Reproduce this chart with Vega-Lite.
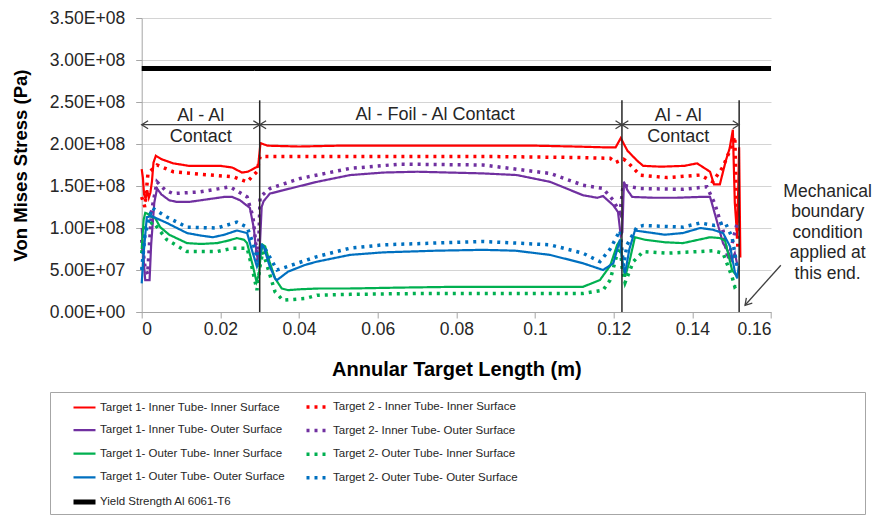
{
  "$schema": "https://vega.github.io/schema/vega-lite/v6.json",
  "width": 629.3,
  "height": 294,
  "autosize": {"type": "none"},
  "padding": {"left": 141.7, "top": 18, "right": 108, "bottom": 203},
  "background": "white",
  "config": {
    "view": {"stroke": null},
    "font": "Liberation Sans",
    "axis": {
      "labelFont": "Liberation Sans", "labelFontSize": 17.5, "labelColor": "#262626",
      "titleFont": "Liberation Sans", "titleFontWeight": "bold", "titleColor": "#000000",
      "gridColor": "#d4d4d4", "domainColor": "#a6a6a6", "tickColor": "#a6a6a6"
    },
    "legend": {
      "orient": "none", "legendX": -91.7, "legendY": 374,
      "columns": 2, "symbolType": "stroke", "symbolSize": 484,
      "labelFont": "Liberation Sans", "labelFontSize": 11.5, "labelColor": "#262626",
      "strokeColor": "#a6a6a6", "padding": 2, "rowPadding": 3.6, "columnPadding": 0,
      "symbolOffset": 19, "labelOffset": 2, "labelLimit": 400,
      "titleOrient": "right", "titlePadding": 345, "titleFontSize": 4
    }
  },
  "datasets": {
    "names": [
      {"s": "A", "name": "Target 1- Inner Tube- Inner Surface"},
      {"s": "B", "name": "Target 2 - Inner Tube- Inner Surface"},
      {"s": "C", "name": "Target 1- Inner Tube- Outer Surface"},
      {"s": "D", "name": "Target 2- Inner Tube- Outer Surface"},
      {"s": "E", "name": "Target 1- Outer Tube- Inner Surface"},
      {"s": "F", "name": "Target 2- Outer Tube- Inner Surface"},
      {"s": "G", "name": "Target 1- Outer Tube- Outer Surface"},
      {"s": "H", "name": "Target 2- Outer Tube- Outer Surface"},
      {"s": "Y", "name": "Yield Strength Al 6061-T6"}
    ],
    "lines": [
      {"s":"Y","x":0,"y":2.9e8},{"s":"Y","x":0.16,"y":2.9e8},

      {"s":"A","x":0,"y":1.70e8},{"s":"A","x":0.0003,"y":1.60e8},{"s":"A","x":0.0006,"y":1.40e8},{"s":"A","x":0.001,"y":1.35e8},{"s":"A","x":0.0014,"y":1.45e8},{"s":"A","x":0.0018,"y":1.36e8},{"s":"A","x":0.0022,"y":1.42e8},{"s":"A","x":0.0026,"y":1.55e8},{"s":"A","x":0.003,"y":1.78e8},{"s":"A","x":0.0036,"y":1.86e8},{"s":"A","x":0.005,"y":1.82e8},{"s":"A","x":0.008,"y":1.77e8},{"s":"A","x":0.012,"y":1.74e8},{"s":"A","x":0.016,"y":1.74e8},{"s":"A","x":0.02,"y":1.74e8},{"s":"A","x":0.023,"y":1.72e8},{"s":"A","x":0.0255,"y":1.66e8},{"s":"A","x":0.027,"y":1.67e8},{"s":"A","x":0.029,"y":1.72e8},{"s":"A","x":0.0296,"y":1.73e8},{"s":"A","x":0.0302,"y":2.01e8},{"s":"A","x":0.032,"y":1.98e8},{"s":"A","x":0.04,"y":1.97e8},{"s":"A","x":0.05,"y":1.98e8},{"s":"A","x":0.06,"y":1.98e8},{"s":"A","x":0.07,"y":1.98e8},{"s":"A","x":0.08,"y":1.98e8},{"s":"A","x":0.09,"y":1.98e8},{"s":"A","x":0.1,"y":1.98e8},{"s":"A","x":0.11,"y":1.97e8},{"s":"A","x":0.118,"y":1.96e8},{"s":"A","x":0.1205,"y":1.96e8},{"s":"A","x":0.1218,"y":2.07e8},{"s":"A","x":0.1235,"y":1.92e8},{"s":"A","x":0.126,"y":1.80e8},{"s":"A","x":0.1275,"y":1.74e8},{"s":"A","x":0.132,"y":1.73e8},{"s":"A","x":0.138,"y":1.74e8},{"s":"A","x":0.1412,"y":1.77e8},{"s":"A","x":0.1445,"y":1.67e8},{"s":"A","x":0.1455,"y":1.52e8},{"s":"A","x":0.147,"y":1.52e8},{"s":"A","x":0.1485,"y":1.80e8},{"s":"A","x":0.1495,"y":1.95e8},{"s":"A","x":0.1503,"y":2.17e8},{"s":"A","x":0.1508,"y":1.3e8},{"s":"A","x":0.1514,"y":0.9e8},{"s":"A","x":0.1519,"y":1.96e8},{"s":"A","x":0.1522,"y":0.65e8},

      {"s":"B","x":0,"y":1.37e8},{"s":"B","x":0.0008,"y":1.25e8},{"s":"B","x":0.0016,"y":1.65e8},{"s":"B","x":0.0039,"y":1.75e8},{"s":"B","x":0.008,"y":1.67e8},{"s":"B","x":0.0148,"y":1.64e8},{"s":"B","x":0.0232,"y":1.61e8},{"s":"B","x":0.0268,"y":1.55e8},{"s":"B","x":0.0293,"y":1.67e8},{"s":"B","x":0.0301,"y":1.85e8},{"s":"B","x":0.035,"y":1.85e8},{"s":"B","x":0.05,"y":1.85e8},{"s":"B","x":0.07,"y":1.85e8},{"s":"B","x":0.09,"y":1.85e8},{"s":"B","x":0.11,"y":1.84e8},{"s":"B","x":0.1191,"y":1.83e8},{"s":"B","x":0.1205,"y":1.78e8},{"s":"B","x":0.1225,"y":1.82e8},{"s":"B","x":0.1234,"y":1.79e8},{"s":"B","x":0.1267,"y":1.63e8},{"s":"B","x":0.1336,"y":1.60e8},{"s":"B","x":0.142,"y":1.63e8},{"s":"B","x":0.1452,"y":1.55e8},{"s":"B","x":0.1478,"y":1.73e8},{"s":"B","x":0.1496,"y":1.93e8},{"s":"B","x":0.1508,"y":2.09e8},{"s":"B","x":0.1512,"y":1.3e8},{"s":"B","x":0.1516,"y":0.73e8},

      {"s":"C","x":0,"y":1.0e8},{"s":"C","x":0.0006,"y":0.55e8},{"s":"C","x":0.0009,"y":0.38e8},{"s":"C","x":0.002,"y":0.38e8},{"s":"C","x":0.0024,"y":0.8e8},{"s":"C","x":0.0032,"y":1.3e8},{"s":"C","x":0.0039,"y":1.47e8},{"s":"C","x":0.005,"y":1.40e8},{"s":"C","x":0.007,"y":1.33e8},{"s":"C","x":0.009,"y":1.31e8},{"s":"C","x":0.012,"y":1.31e8},{"s":"C","x":0.015,"y":1.33e8},{"s":"C","x":0.018,"y":1.35e8},{"s":"C","x":0.021,"y":1.37e8},{"s":"C","x":0.023,"y":1.37e8},{"s":"C","x":0.025,"y":1.33e8},{"s":"C","x":0.0275,"y":1.24e8},{"s":"C","x":0.0285,"y":1.0e8},{"s":"C","x":0.0292,"y":0.70e8},{"s":"C","x":0.0296,"y":0.62e8},{"s":"C","x":0.03,"y":0.75e8},{"s":"C","x":0.0305,"y":1.25e8},{"s":"C","x":0.031,"y":1.32e8},{"s":"C","x":0.0326,"y":1.41e8},{"s":"C","x":0.036,"y":1.45e8},{"s":"C","x":0.0446,"y":1.55e8},{"s":"C","x":0.053,"y":1.63e8},{"s":"C","x":0.0614,"y":1.66e8},{"s":"C","x":0.07,"y":1.67e8},{"s":"C","x":0.0784,"y":1.66e8},{"s":"C","x":0.0868,"y":1.65e8},{"s":"C","x":0.0954,"y":1.63e8},{"s":"C","x":0.1038,"y":1.55e8},{"s":"C","x":0.1122,"y":1.39e8},{"s":"C","x":0.1158,"y":1.36e8},{"s":"C","x":0.1173,"y":1.38e8},{"s":"C","x":0.1199,"y":1.27e8},{"s":"C","x":0.1211,"y":1.19e8},{"s":"C","x":0.1218,"y":0.91e8},{"s":"C","x":0.1222,"y":0.95e8},{"s":"C","x":0.1226,"y":1.55e8},{"s":"C","x":0.1235,"y":1.45e8},{"s":"C","x":0.1247,"y":1.37e8},{"s":"C","x":0.13,"y":1.36e8},{"s":"C","x":0.136,"y":1.36e8},{"s":"C","x":0.142,"y":1.37e8},{"s":"C","x":0.1445,"y":1.37e8},{"s":"C","x":0.145,"y":1.29e8},{"s":"C","x":0.1478,"y":0.82e8},{"s":"C","x":0.1491,"y":0.72e8},{"s":"C","x":0.15,"y":0.62e8},{"s":"C","x":0.1508,"y":0.70e8},{"s":"C","x":0.1515,"y":0.55e8},

      {"s":"D","x":0,"y":0.86e8},{"s":"D","x":0.0008,"y":0.55e8},{"s":"D","x":0.0015,"y":0.45e8},{"s":"D","x":0.0025,"y":1.2e8},{"s":"D","x":0.0039,"y":1.55e8},{"s":"D","x":0.006,"y":1.45e8},{"s":"D","x":0.008,"y":1.41e8},{"s":"D","x":0.0148,"y":1.43e8},{"s":"D","x":0.0225,"y":1.49e8},{"s":"D","x":0.0268,"y":1.37e8},{"s":"D","x":0.0283,"y":1.13e8},{"s":"D","x":0.0296,"y":0.55e8},{"s":"D","x":0.0301,"y":1.37e8},{"s":"D","x":0.0326,"y":1.47e8},{"s":"D","x":0.0403,"y":1.59e8},{"s":"D","x":0.053,"y":1.71e8},{"s":"D","x":0.0657,"y":1.76e8},{"s":"D","x":0.0868,"y":1.75e8},{"s":"D","x":0.1038,"y":1.65e8},{"s":"D","x":0.1122,"y":1.51e8},{"s":"D","x":0.1173,"y":1.47e8},{"s":"D","x":0.1199,"y":1.33e8},{"s":"D","x":0.1216,"y":1.18e8},{"s":"D","x":0.1224,"y":1.51e8},{"s":"D","x":0.1267,"y":1.47e8},{"s":"D","x":0.1376,"y":1.46e8},{"s":"D","x":0.1437,"y":1.49e8},{"s":"D","x":0.1457,"y":1.29e8},{"s":"D","x":0.1478,"y":0.97e8},{"s":"D","x":0.1491,"y":0.62e8},{"s":"D","x":0.1514,"y":1.06e8},

      {"s":"E","x":0,"y":0.75e8},{"s":"E","x":0.0005,"y":1.10e8},{"s":"E","x":0.0009,"y":1.18e8},{"s":"E","x":0.0015,"y":1.17e8},{"s":"E","x":0.0025,"y":1.13e8},{"s":"E","x":0.0034,"y":1.12e8},{"s":"E","x":0.0047,"y":1.01e8},{"s":"E","x":0.007,"y":0.92e8},{"s":"E","x":0.0115,"y":0.82e8},{"s":"E","x":0.015,"y":0.81e8},{"s":"E","x":0.0192,"y":0.82e8},{"s":"E","x":0.022,"y":0.85e8},{"s":"E","x":0.0242,"y":0.88e8},{"s":"E","x":0.026,"y":0.86e8},{"s":"E","x":0.0268,"y":0.82e8},{"s":"E","x":0.0283,"y":0.54e8},{"s":"E","x":0.0292,"y":0.36e8},{"s":"E","x":0.0298,"y":0.45e8},{"s":"E","x":0.0303,"y":0.70e8},{"s":"E","x":0.0308,"y":0.80e8},{"s":"E","x":0.0314,"y":0.78e8},{"s":"E","x":0.0325,"y":0.60e8},{"s":"E","x":0.0339,"y":0.40e8},{"s":"E","x":0.0356,"y":0.28e8},{"s":"E","x":0.0372,"y":0.26e8},{"s":"E","x":0.04,"y":0.27e8},{"s":"E","x":0.045,"y":0.28e8},{"s":"E","x":0.053,"y":0.28e8},{"s":"E","x":0.065,"y":0.29e8},{"s":"E","x":0.08,"y":0.30e8},{"s":"E","x":0.095,"y":0.30e8},{"s":"E","x":0.1122,"y":0.30e8},{"s":"E","x":0.1165,"y":0.38e8},{"s":"E","x":0.1191,"y":0.55e8},{"s":"E","x":0.1209,"y":0.80e8},{"s":"E","x":0.1216,"y":0.85e8},{"s":"E","x":0.1222,"y":0.60e8},{"s":"E","x":0.1229,"y":0.42e8},{"s":"E","x":0.124,"y":0.60e8},{"s":"E","x":0.1254,"y":0.89e8},{"s":"E","x":0.128,"y":0.86e8},{"s":"E","x":0.133,"y":0.83e8},{"s":"E","x":0.1376,"y":0.82e8},{"s":"E","x":0.1445,"y":0.89e8},{"s":"E","x":0.147,"y":0.88e8},{"s":"E","x":0.1483,"y":0.85e8},{"s":"E","x":0.1501,"y":0.50e8},{"s":"E","x":0.1514,"y":0.42e8},

      {"s":"F","x":0,"y":0.70e8},{"s":"F","x":0.0008,"y":1.0e8},{"s":"F","x":0.0029,"y":1.07e8},{"s":"F","x":0.0064,"y":0.86e8},{"s":"F","x":0.0115,"y":0.72e8},{"s":"F","x":0.0192,"y":0.72e8},{"s":"F","x":0.0232,"y":0.76e8},{"s":"F","x":0.0268,"y":0.76e8},{"s":"F","x":0.028,"y":0.54e8},{"s":"F","x":0.0293,"y":0.26e8},{"s":"F","x":0.0301,"y":0.55e8},{"s":"F","x":0.0308,"y":0.72e8},{"s":"F","x":0.0339,"y":0.24e8},{"s":"F","x":0.0359,"y":0.14e8},{"s":"F","x":0.0415,"y":0.16e8},{"s":"F","x":0.0446,"y":0.20e8},{"s":"F","x":0.053,"y":0.21e8},{"s":"F","x":0.07,"y":0.22e8},{"s":"F","x":0.09,"y":0.22e8},{"s":"F","x":0.1122,"y":0.22e8},{"s":"F","x":0.1173,"y":0.26e8},{"s":"F","x":0.1191,"y":0.38e8},{"s":"F","x":0.1216,"y":0.82e8},{"s":"F","x":0.1222,"y":0.50e8},{"s":"F","x":0.1229,"y":0.35e8},{"s":"F","x":0.125,"y":0.60e8},{"s":"F","x":0.1275,"y":0.72e8},{"s":"F","x":0.1336,"y":0.70e8},{"s":"F","x":0.142,"y":0.72e8},{"s":"F","x":0.1452,"y":0.73e8},{"s":"F","x":0.1478,"y":0.70e8},{"s":"F","x":0.1501,"y":0.42e8},{"s":"F","x":0.1508,"y":0.30e8},{"s":"F","x":0.1514,"y":0.32e8},

      {"s":"G","x":0,"y":0.34e8},{"s":"G","x":0.0005,"y":0.7e8},{"s":"G","x":0.0013,"y":1.13e8},{"s":"G","x":0.0026,"y":1.14e8},{"s":"G","x":0.0064,"y":1.06e8},{"s":"G","x":0.0115,"y":0.94e8},{"s":"G","x":0.015,"y":0.91e8},{"s":"G","x":0.0181,"y":0.89e8},{"s":"G","x":0.021,"y":0.92e8},{"s":"G","x":0.0242,"y":0.97e8},{"s":"G","x":0.0268,"y":0.94e8},{"s":"G","x":0.028,"y":0.74e8},{"s":"G","x":0.0293,"y":0.54e8},{"s":"G","x":0.0298,"y":0.60e8},{"s":"G","x":0.0305,"y":0.80e8},{"s":"G","x":0.031,"y":0.78e8},{"s":"G","x":0.0325,"y":0.55e8},{"s":"G","x":0.0339,"y":0.40e8},{"s":"G","x":0.0344,"y":0.38e8},{"s":"G","x":0.0372,"y":0.48e8},{"s":"G","x":0.0415,"y":0.56e8},{"s":"G","x":0.0446,"y":0.60e8},{"s":"G","x":0.053,"y":0.68e8},{"s":"G","x":0.0614,"y":0.71e8},{"s":"G","x":0.075,"y":0.73e8},{"s":"G","x":0.0868,"y":0.74e8},{"s":"G","x":0.095,"y":0.73e8},{"s":"G","x":0.1038,"y":0.68e8},{"s":"G","x":0.1122,"y":0.58e8},{"s":"G","x":0.1173,"y":0.50e8},{"s":"G","x":0.1199,"y":0.58e8},{"s":"G","x":0.1216,"y":0.86e8},{"s":"G","x":0.1222,"y":0.60e8},{"s":"G","x":0.1229,"y":0.46e8},{"s":"G","x":0.124,"y":0.75e8},{"s":"G","x":0.1254,"y":0.97e8},{"s":"G","x":0.127,"y":0.96e8},{"s":"G","x":0.133,"y":0.92e8},{"s":"G","x":0.1376,"y":0.94e8},{"s":"G","x":0.142,"y":1.0e8},{"s":"G","x":0.1452,"y":0.98e8},{"s":"G","x":0.1478,"y":0.94e8},{"s":"G","x":0.1496,"y":0.78e8},{"s":"G","x":0.1508,"y":0.48e8},{"s":"G","x":0.1514,"y":0.40e8},{"s":"G","x":0.1518,"y":0.55e8},

      {"s":"H","x":0,"y":0.50e8},{"s":"H","x":0.0008,"y":0.9e8},{"s":"H","x":0.0026,"y":1.24e8},{"s":"H","x":0.0064,"y":1.13e8},{"s":"H","x":0.0115,"y":1.01e8},{"s":"H","x":0.0192,"y":1.0e8},{"s":"H","x":0.0242,"y":1.07e8},{"s":"H","x":0.0268,"y":1.01e8},{"s":"H","x":0.0283,"y":0.82e8},{"s":"H","x":0.0296,"y":0.60e8},{"s":"H","x":0.0301,"y":0.75e8},{"s":"H","x":0.0308,"y":0.80e8},{"s":"H","x":0.0344,"y":0.50e8},{"s":"H","x":0.0446,"y":0.66e8},{"s":"H","x":0.053,"y":0.76e8},{"s":"H","x":0.0614,"y":0.80e8},{"s":"H","x":0.0868,"y":0.84e8},{"s":"H","x":0.1038,"y":0.80e8},{"s":"H","x":0.1122,"y":0.70e8},{"s":"H","x":0.1165,"y":0.60e8},{"s":"H","x":0.1191,"y":0.75e8},{"s":"H","x":0.1216,"y":0.97e8},{"s":"H","x":0.1225,"y":0.55e8},{"s":"H","x":0.1234,"y":0.80e8},{"s":"H","x":0.1259,"y":1.01e8},{"s":"H","x":0.1275,"y":1.03e8},{"s":"H","x":0.1376,"y":1.01e8},{"s":"H","x":0.142,"y":1.06e8},{"s":"H","x":0.1457,"y":1.03e8},{"s":"H","x":0.1483,"y":1.07e8},{"s":"H","x":0.1501,"y":0.89e8},{"s":"H","x":0.1514,"y":0.54e8}
    ],
    "walls": [
      {"x": 0.03, "y": 0, "y2": 2.52e8},
      {"x": 0.1221, "y": 0, "y2": 2.52e8},
      {"x": 0.1519, "y": 0, "y2": 2.52e8}
    ],
    "arrows": [
      {"x": 0, "x2": 0.03, "y": 2.23e8, "y2": 2.23e8},
      {"x": 0.03, "x2": 0.1221, "y": 2.23e8, "y2": 2.23e8},
      {"x": 0.1221, "x2": 0.1519, "y": 2.23e8, "y2": 2.23e8},
      {"x": 0.1625, "x2": 0.1534, "y": 0.557e8, "y2": 0.08e8}
    ],
    "heads": [
      {"x": 0, "y": 2.23e8, "dir": "left"},
      {"x": 0.03, "y": 2.23e8, "dir": "left"},
      {"x": 0.1221, "y": 2.23e8, "dir": "left"},
      {"x": 0.03, "y": 2.23e8, "dir": "right"},
      {"x": 0.1221, "y": 2.23e8, "dir": "right"},
      {"x": 0.1519, "y": 2.23e8, "dir": "right"},
      {"x": 0.1534, "y": 0.08e8, "dir": "diag"}
    ],
    "notes": [
      {"x": 0.015, "y": 2.33e8, "t": "Al - Al"},
      {"x": 0.015, "y": 2.08e8, "t": "Contact"},
      {"x": 0.0746, "y": 2.34e8, "t": "Al - Foil - Al Contact"},
      {"x": 0.1364, "y": 2.33e8, "t": "Al - Al"},
      {"x": 0.1364, "y": 2.08e8, "t": "Contact"}
    ],
    "side": [
      {"x": 0.1744, "y": 1.43e8, "t": "Mechanical\nboundary\ncondition\napplied at\nthis end."}
    ]
  },
  "layer": [
    {
      "data": {"name": "lines"},
      "transform": [{"lookup": "s", "from": {"data": {"name": "names"}, "key": "s", "fields": ["name"]}}],
      "mark": {"type": "line", "interpolate": "linear"},
      "encoding": {
        "x": {
          "field": "x", "type": "quantitative",
          "scale": {"domain": [0, 0.16], "nice": false, "zero": false},
          "title": "Annular Target Length (m)",
          "axis": {
            "values": [0, 0.02, 0.04, 0.06, 0.08, 0.1, 0.12, 0.14, 0.16],
            "labelExpr": "format(datum.value, '~g')",
            "grid": false, "tickSize": 6, "labelPadding": 2,
            "titlePadding": 22, "titleFontSize": 20
          }
        },
        "y": {
          "field": "y", "type": "quantitative",
          "scale": {"domain": [0, 350000000], "nice": false},
          "title": "Von Mises Stress (Pa)",
          "axis": {
            "values": [0, 50000000, 100000000, 150000000, 200000000, 250000000, 300000000, 350000000],
            "labelExpr": "datum.value == 0 ? '0.00E+00' : (datum.value < 100000000 ? format(datum.value / 10000000, '.2f') + 'E+07' : format(datum.value / 100000000, '.2f') + 'E+08')",
            "grid": true, "tickSize": 6, "labelPadding": 11,
            "titlePadding": 19, "titleFontSize": 18.5
          }
        },
        "color": {
          "field": "name", "type": "nominal", "title": " ",
          "scale": {
            "domain": ["Target 1- Inner Tube- Inner Surface", "Target 1- Inner Tube- Outer Surface", "Target 1- Outer Tube- Inner Surface", "Target 1- Outer Tube- Outer Surface", "Yield Strength Al 6061-T6", "Target 2 - Inner Tube- Inner Surface", "Target 2- Inner Tube- Outer Surface", "Target 2- Outer Tube- Inner Surface", "Target 2- Outer Tube- Outer Surface"],
            "range": ["#FF0000", "#7030A0", "#00B050", "#0070C0", "#000000", "#FF0000", "#7030A0", "#00B050", "#0070C0"]
          }
        },
        "strokeDash": {
          "field": "name", "type": "nominal", "title": " ",
          "scale": {
            "domain": ["Target 1- Inner Tube- Inner Surface", "Target 1- Inner Tube- Outer Surface", "Target 1- Outer Tube- Inner Surface", "Target 1- Outer Tube- Outer Surface", "Yield Strength Al 6061-T6", "Target 2 - Inner Tube- Inner Surface", "Target 2- Inner Tube- Outer Surface", "Target 2- Outer Tube- Inner Surface", "Target 2- Outer Tube- Outer Surface"],
            "range": [[1, 0], [1, 0], [1, 0], [1, 0], [1, 0], [3, 5], [3, 5], [3, 5], [3, 5]]
          }
        },
        "strokeWidth": {
          "field": "name", "type": "nominal", "title": " ",
          "scale": {
            "type": "ordinal",
            "domain": ["Target 1- Inner Tube- Inner Surface", "Target 1- Inner Tube- Outer Surface", "Target 1- Outer Tube- Inner Surface", "Target 1- Outer Tube- Outer Surface", "Yield Strength Al 6061-T6", "Target 2 - Inner Tube- Inner Surface", "Target 2- Inner Tube- Outer Surface", "Target 2- Outer Tube- Inner Surface", "Target 2- Outer Tube- Outer Surface"],
            "range": [2.2, 2.2, 2.2, 2.2, 5, 3.5, 3.5, 3.5, 3.5]
          }
        }
      }
    },
    {
      "data": {"name": "walls"},
      "mark": {"type": "rule", "color": "#262626", "strokeWidth": 1.5},
      "encoding": {
        "x": {"field": "x", "type": "quantitative", "scale": {"domain": [0, 0.16], "nice": false, "zero": false}, "title": "Annular Target Length (m)"},
        "y": {"field": "y", "type": "quantitative", "scale": {"domain": [0, 350000000], "nice": false}, "title": "Von Mises Stress (Pa)"},
        "y2": {"field": "y2"}
      }
    },
    {
      "data": {"name": "arrows"},
      "mark": {"type": "rule", "color": "#404040", "strokeWidth": 1.3},
      "encoding": {
        "x": {"field": "x", "type": "quantitative", "scale": {"domain": [0, 0.16], "nice": false, "zero": false}, "title": "Annular Target Length (m)"},
        "x2": {"field": "x2"},
        "y": {"field": "y", "type": "quantitative", "scale": {"domain": [0, 350000000], "nice": false}, "title": "Von Mises Stress (Pa)"},
        "y2": {"field": "y2"}
      }
    },
    {
      "data": {"name": "heads"},
      "transform": [{"filter": "datum.dir == 'left'"}],
      "mark": {"type": "point", "shape": "M1.6,-1L0,0L1.6,1", "size": 64, "filled": false, "stroke": "#404040", "strokeWidth": 1.3, "opacity": 1},
      "encoding": {
        "x": {"field": "x", "type": "quantitative", "scale": {"domain": [0, 0.16], "nice": false, "zero": false}, "title": "Annular Target Length (m)"},
        "y": {"field": "y", "type": "quantitative", "scale": {"domain": [0, 350000000], "nice": false}, "title": "Von Mises Stress (Pa)"}
      }
    },
    {
      "data": {"name": "heads"},
      "transform": [{"filter": "datum.dir == 'right'"}],
      "mark": {"type": "point", "shape": "M-1.6,-1L0,0L-1.6,1", "size": 64, "filled": false, "stroke": "#404040", "strokeWidth": 1.3, "opacity": 1},
      "encoding": {
        "x": {"field": "x", "type": "quantitative", "scale": {"domain": [0, 0.16], "nice": false, "zero": false}, "title": "Annular Target Length (m)"},
        "y": {"field": "y", "type": "quantitative", "scale": {"domain": [0, 350000000], "nice": false}, "title": "Von Mises Stress (Pa)"}
      }
    },
    {
      "data": {"name": "heads"},
      "transform": [{"filter": "datum.dir == 'diag'"}],
      "mark": {"type": "point", "shape": "M-1.6,-1L0,0L-1.6,1", "size": 64, "angle": 132, "filled": false, "stroke": "#404040", "strokeWidth": 1.3, "opacity": 1},
      "encoding": {
        "x": {"field": "x", "type": "quantitative", "scale": {"domain": [0, 0.16], "nice": false, "zero": false}, "title": "Annular Target Length (m)"},
        "y": {"field": "y", "type": "quantitative", "scale": {"domain": [0, 350000000], "nice": false}, "title": "Von Mises Stress (Pa)"}
      }
    },
    {
      "data": {"name": "notes"},
      "mark": {"type": "text", "font": "Liberation Sans", "fontSize": 18, "color": "#262626", "align": "center", "baseline": "middle"},
      "encoding": {
        "x": {"field": "x", "type": "quantitative", "scale": {"domain": [0, 0.16], "nice": false, "zero": false}, "title": "Annular Target Length (m)"},
        "y": {"field": "y", "type": "quantitative", "scale": {"domain": [0, 350000000], "nice": false}, "title": "Von Mises Stress (Pa)"},
        "text": {"field": "t"}
      }
    },
    {
      "data": {"name": "side"},
      "mark": {"type": "text", "font": "Liberation Sans", "fontSize": 17.5, "color": "#262626", "align": "center", "baseline": "middle", "lineBreak": "\n", "lineHeight": 20.5},
      "encoding": {
        "x": {"field": "x", "type": "quantitative", "scale": {"domain": [0, 0.16], "nice": false, "zero": false}, "title": "Annular Target Length (m)"},
        "y": {"field": "y", "type": "quantitative", "scale": {"domain": [0, 350000000], "nice": false}, "title": "Von Mises Stress (Pa)"},
        "text": {"field": "t"}
      }
    }
  ]
}
